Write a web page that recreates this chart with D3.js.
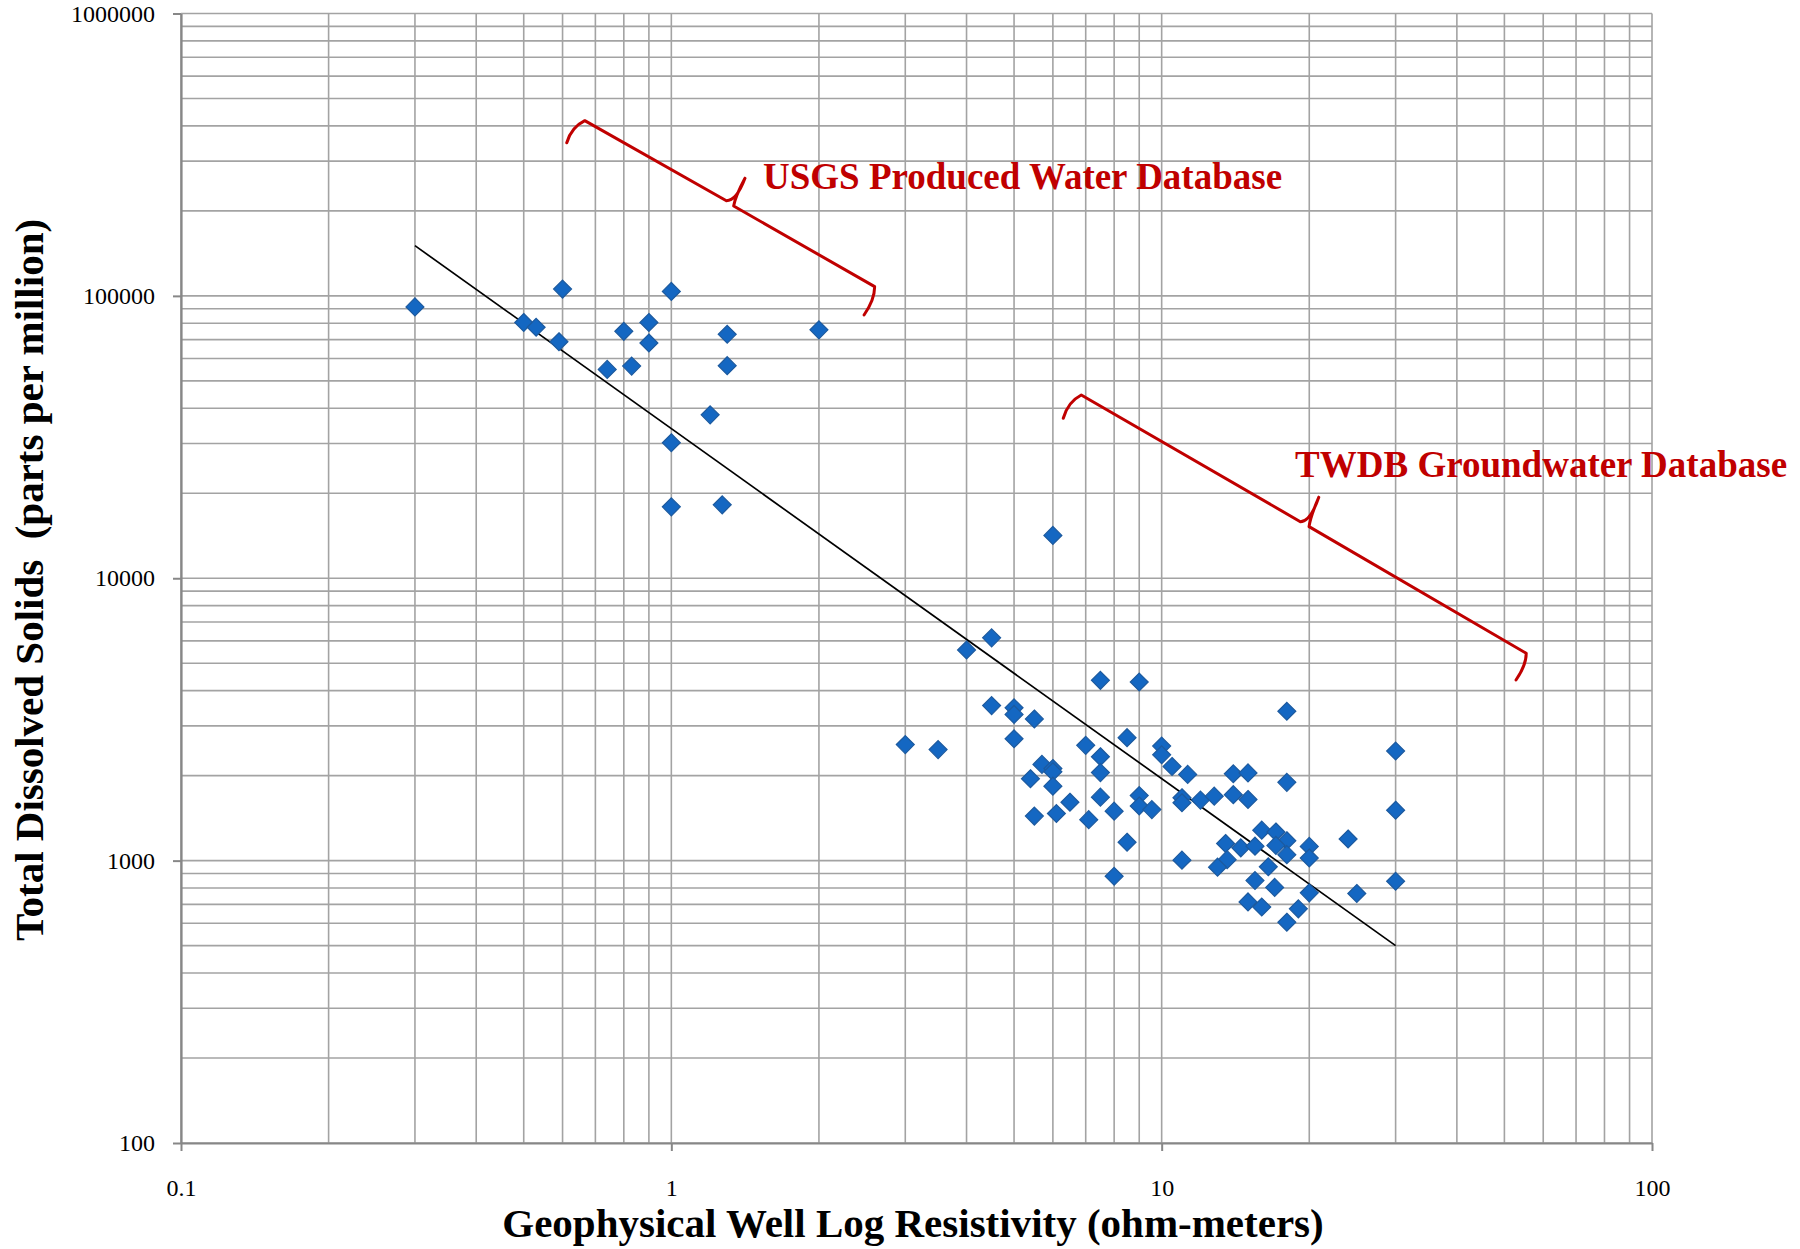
<!DOCTYPE html>
<html>
<head>
<meta charset="utf-8">
<script src="https://cdn.jsdelivr.net/npm/d3@7"></script>
<style>
  html, body { margin: 0; padding: 0; background: #ffffff; }
  svg { display: block; }
</style>
</head>
<body>
<svg id="chart" width="1800" height="1249"></svg>
<script>
// Resistivity (ohm-m) vs total dissolved solids (ppm) for produced water and groundwater samples
const resistivity = [
  0.30, 0.50, 0.53, 0.59, 0.60, 0.74, 0.80, 0.83, 0.90, 0.90, 1.00, 1.00, 1.00, 1.20, 1.27, 1.30, 1.30, 2.00,
  6.0,
  4.0, 4.5, 7.5, 9.0, 18.0,
  4.5, 5.0, 5.0, 5.5,
  3.0, 3.5,
  5.0, 7.0, 7.5, 8.5, 10.0, 10.0, 30.0,
  5.7, 6.0, 6.0, 7.5, 10.5, 11.3, 14.0, 15.0, 18.0,
  5.4, 6.0, 6.5, 7.5, 9.0, 9.0, 9.55,
  5.5, 6.1, 7.1, 8.0, 8.5, 8.0,
  11.0, 11.0, 12.0, 12.8, 14.0, 15.0,
  11.0, 13.5, 14.5, 15.5, 16.0, 17.1, 18.0, 17.1, 18.0, 20.0, 20.0, 24.0, 30.0,
  13.6, 13.0, 16.5, 15.5, 17.0, 20.0, 25.0, 30.0,
  15.0, 16.0, 19.0, 18.0
];
const tds = [
  91400, 80500, 77400, 68800, 105700, 54900, 74900, 56400, 80500, 68100, 103700, 30200, 17900, 37900, 18200, 73100, 56600, 75800,
  14180,
  5570, 6150, 4350, 4290, 3380,
  3540, 3478, 3294, 3175,
  2576, 2473,
  2701, 2560, 2333, 2725, 2545, 2370, 2444,
  2192, 2120, 2065, 2050, 2155, 2020, 2030, 2045, 1893,
  1950, 1835, 1610, 1678, 1700, 1561, 1516,
  1438, 1468, 1397, 1497, 1162, 880,
  1670, 1603, 1638, 1692, 1712, 1646,
  1004, 1150, 1110, 1125, 1282, 1263, 1176, 1132, 1050, 1123, 1022, 1193, 1508,
  1008, 948, 951, 850, 804, 769, 765, 845,
  714, 685, 675, 605
];

// Power-law trend line endpoints
const trendX = [0.3, 30];
const trendY = [150600, 500];

// Axis ticks
const xTicks = [0.1, 1, 10, 100];
const xTickLabels = ["0.1", "1", "10", "100"];
const yTicks = [100, 1000, 10000, 100000, 1000000];
const yTickLabels = ["100", "1000", "10000", "100000", "1000000"];

// Annotation braces in data units: hook start, hook corner, upper cusp, tip, lower cusp, lower corner, hook end
const usgsBraceX = [0.612, 0.666, 1.295, 1.413, 1.340, 2.598, 2.472];
const usgsBraceY = [348600, 417300, 217300, 260800, 208100, 107800, 85570];
const twdbBraceX = [6.30, 6.855, 19.18, 20.91, 19.98, 55.4, 52.8];
const twdbBraceY = [36860, 44570, 15860, 19350, 15230, 5423, 4362];

const annotationLabels = ["USGS Produced Water Database", "TWDB Groundwater Database"];
const annotationX = [1.538, 18.71];
const annotationY = [239000, 22840];

const xTitle = "Geophysical Well Log Resistivity (ohm-meters)";
const yTitle = "Total Dissolved Solids  (parts per million)";

// ---------------------------------------------------------------------------
(function draw() {
  const svg = d3.select("#chart");
  const W = 1800, H = 1249;
  const plotLeft = 181, plotRight = 1652, plotTop = 13.5, plotBottom = 1143;

  svg.append("rect").attr("width", W).attr("height", H).attr("fill", "#ffffff");

  const x = d3.scaleLog().domain([0.1, 100]).range([plotLeft, plotRight]);
  const y = d3.scaleLog().domain([100, 1000000]).range([plotBottom, plotTop]);

  const gridColor = "#a3a3a3";
  const axisColor = "#878787";
  const red = "#c00000";
  const serif = "'Liberation Serif', 'Times New Roman', serif";

  // Grid lines at every 1..9 multiple of each decade
  const grid = svg.append("g").attr("class", "grid");
  grid.selectAll("line.vx").data(x.ticks()).join("line")
    .attr("class", "vx")
    .attr("x1", d => x(d)).attr("x2", d => x(d))
    .attr("y1", plotTop).attr("y2", plotBottom)
    .attr("stroke", gridColor).attr("stroke-width", 1.6);
  grid.selectAll("line.hy").data(y.ticks()).join("line")
    .attr("class", "hy")
    .attr("x1", plotLeft).attr("x2", plotRight)
    .attr("y1", d => y(d)).attr("y2", d => y(d))
    .attr("stroke", gridColor).attr("stroke-width", 1.6);

  // Axes
  const yAxis = d3.axisLeft(y)
    .tickValues(yTicks)
    .tickFormat((d, i) => yTickLabels[i])
    .tickSize(8).tickSizeOuter(0).tickPadding(18);
  const gy = svg.append("g").attr("transform", `translate(${plotLeft},0)`).call(yAxis);

  const xAxis = d3.axisBottom(x)
    .tickValues(xTicks)
    .tickFormat((d, i) => xTickLabels[i])
    .tickSize(8).tickSizeOuter(0).tickPadding(28);
  const gx = svg.append("g").attr("transform", `translate(0,${plotBottom})`).call(xAxis);

  [gx, gy].forEach(g => {
    g.select(".domain").attr("stroke", axisColor).attr("stroke-width", 2.2);
    g.selectAll(".tick line").attr("stroke", axisColor).attr("stroke-width", 2);
    g.selectAll(".tick text")
      .attr("fill", "#000")
      .style("font-family", serif)
      .style("font-size", "24px")
      .style("font-variant-numeric", "oldstyle-nums");
  });

  // Trend line
  svg.append("path")
    .datum(d3.zip(trendX, trendY))
    .attr("d", d3.line().x(d => x(d[0])).y(d => y(d[1])))
    .attr("fill", "none").attr("stroke", "#000").attr("stroke-width", 1.7);

  // Diamond markers
  const diamond = d3.symbol().type(d3.symbolDiamond2).size(205);
  svg.append("g").selectAll("path").data(d3.zip(resistivity, tds)).join("path")
    .attr("transform", d => `translate(${x(d[0])},${y(d[1])})`)
    .attr("d", diamond)
    .attr("fill", "#1467c2")
    .attr("stroke", "#1d5a9e")
    .attr("stroke-width", 1.2);

  // Curly-brace annotations
  function bracePath(bx, by) {
    const p = bx.map((v, i) => [x(v), y(by[i])]);
    const [s, c, a, t, b, lc, e] = p;
    const q1 = [s[0] + (c[0] - s[0]) * 0.25, c[1] + (s[1] - c[1]) * 0.3];
    const qt = [a[0] + (t[0] - a[0]) * 0.55, a[1]];
    const qb = [b[0] + (t[0] - b[0]) * 0.15, b[1] - (b[1] - t[1]) * 0.35];
    const qe = [lc[0], lc[1] + (e[1] - lc[1]) * 0.45];
    return `M${s}Q${q1} ${c}L${a}Q${qt} ${t}M${t}Q${qb} ${b}L${lc}Q${qe} ${e}`;
  }
  const braces = svg.append("g").attr("fill", "none").attr("stroke", red)
    .attr("stroke-width", 3).attr("stroke-linejoin", "round").attr("stroke-linecap", "round");
  braces.append("path").attr("d", bracePath(usgsBraceX, usgsBraceY));
  braces.append("path").attr("d", bracePath(twdbBraceX, twdbBraceY));

  svg.append("g").selectAll("text").data(annotationLabels).join("text")
    .attr("x", (d, i) => x(annotationX[i]))
    .attr("y", (d, i) => y(annotationY[i]))
    .attr("fill", red)
    .style("font-family", serif)
    .style("font-weight", "bold")
    .style("font-size", "37px")
    .text(d => d);

  // Axis titles
  svg.append("text")
    .attr("x", 913).attr("y", 1237)
    .attr("text-anchor", "middle")
    .style("font-family", serif).style("font-weight", "bold").style("font-size", "41px")
    .text(xTitle);

  svg.append("text")
    .attr("transform", "translate(43,580) rotate(-90)")
    .attr("text-anchor", "middle")
    .style("font-family", serif).style("font-weight", "bold").style("font-size", "41px")
    .style("white-space", "pre")
    .text(yTitle);
})();
</script>
</body>
</html>
